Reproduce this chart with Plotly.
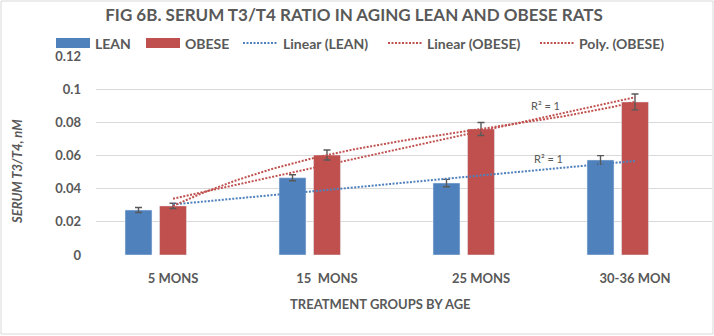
import numpy as np
import plotly.graph_objects as go

# ---- data ----
categories = ["5 MONS", "15  MONS", "25 MONS", "30-36 MON"]
lean = [0.0271, 0.0466, 0.0434, 0.0573]
lean_err = [0.0015, 0.0018, 0.0022, 0.0026]
obese = [0.0296, 0.0603, 0.0760, 0.0923]
obese_err = [0.0016, 0.0030, 0.0039, 0.0048]
y_ticks = [0, 0.02, 0.04, 0.06, 0.08, 0.1, 0.12]
y_tick_labels = ["0", "0.02", "0.04", "0.06", "0.08", "0.1", "0.12"]

W, H = 714, 336
L, R, T, B = 96, 712, 56, 255  # plot area in pixels

def px(x):
    return (x - L) / (R - L)

def py(y):
    return (B - y) / (B - T)

TXT = "#595959"
BLUE = "#4F81BD"
RED = "#C0504D"
FONT = "Lato"
DOT = "2px,1.5px"

xi = np.arange(len(categories))
bw = 0.175

fig = go.Figure()
fig.add_trace(go.Bar(
    x=xi, y=lean, name="LEAN", marker_color=BLUE, width=bw, offset=-0.224 - bw / 2,
    error_y=dict(type="data", array=lean_err, color=TXT, thickness=1.4, width=3.5),
    showlegend=False))
fig.add_trace(go.Bar(
    x=xi, y=obese, name="OBESE", marker_color=RED, width=bw, offset=-bw / 2,
    error_y=dict(type="data", array=obese_err, color=TXT, thickness=1.4, width=3.5),
    showlegend=False))

# trendlines fitted from the data
lin_lean = np.polyfit(xi, lean, 1)
lin_obese = np.polyfit(xi, obese, 1)
poly_obese = np.polyfit(xi, obese, 3)
xl = np.array([xi[0], xi[-1]])
xp = np.linspace(xi[0], xi[-1], 120)
fig.add_trace(go.Scatter(x=xl, y=np.polyval(lin_lean, xl), mode="lines", name="Linear (LEAN)",
                         line=dict(color=BLUE, width=2, dash=DOT), showlegend=False))
fig.add_trace(go.Scatter(x=xl, y=np.polyval(lin_obese, xl), mode="lines", name="Linear (OBESE)",
                         line=dict(color=RED, width=2, dash=DOT), showlegend=False))
fig.add_trace(go.Scatter(x=xp, y=np.polyval(poly_obese, xp), mode="lines", name="Poly. (OBESE)",
                         line=dict(color=RED, width=2, dash=DOT), showlegend=False))

shapes = []
annotations = []

# outer chart border
shapes.append(dict(type="rect", xref="paper", yref="paper",
                   x0=px(1), x1=px(713), y0=py(1), y1=py(334),
                   line=dict(color="#D9D9D9", width=1), fillcolor="rgba(0,0,0,0)", layer="below"))

# manual legend
leg_y = 43
def swatch(x0, x1, color):
    shapes.append(dict(type="rect", xref="paper", yref="paper", x0=px(x0), x1=px(x1),
                       y0=py(leg_y + 5), y1=py(leg_y - 5), fillcolor=color, line=dict(width=0)))
def dotline(x0, x1, color):
    shapes.append(dict(type="line", xref="paper", yref="paper", x0=px(x0), x1=px(x1),
                       y0=py(leg_y), y1=py(leg_y), line=dict(color=color, width=2, dash=DOT)))
def legtext(x, text):
    annotations.append(dict(xref="paper", yref="paper", x=px(x), y=py(leg_y), text=text,
                            showarrow=False, xanchor="left", yanchor="middle",
                            font=dict(family=FONT, size=14, color=TXT, weight="bold")))

swatch(56, 90, BLUE); legtext(93, "LEAN")
swatch(146, 180, RED); legtext(183, "OBESE")
dotline(243, 277, BLUE); legtext(281, "Linear (LEAN)")
dotline(388, 422, RED); legtext(425, "Linear (OBESE)")
dotline(540, 574, RED); legtext(577, "Poly. (OBESE)")

# R² labels
annotations.append(dict(x=2.417, y=0.0899, xref="x", yref="y", text="R² = 1", showarrow=False,
                        font=dict(family=FONT, size=11, color=TXT)))
annotations.append(dict(x=2.437, y=0.0579, xref="x", yref="y", text="R² = 1", showarrow=False,
                        font=dict(family=FONT, size=11, color=TXT)))

# axis titles
annotations.append(dict(xref="paper", yref="paper", x=px(380), y=py(304),
                        xanchor="center", yanchor="middle",
                        text="TREATMENT GROUPS BY AGE", showarrow=False,
                        font=dict(family=FONT, size=13, color=TXT, weight="bold")))
annotations.append(dict(xref="paper", yref="paper", x=px(17), y=py(172),
                        xanchor="center", yanchor="middle",
                        text="<i>SERUM T3/T4, nM</i>", showarrow=False, textangle=-90,
                        font=dict(family=FONT, size=13, color=TXT, weight="bold")))

fig.update_layout(
    width=W, height=H,
    margin=dict(l=L, r=W - R, t=T, b=H - B),
    paper_bgcolor="white", plot_bgcolor="white",
    barmode="overlay",
    showlegend=False,
    title=dict(text="<b>FIG 6B. SERUM T3/T4 RATIO IN AGING LEAN AND OBESE RATS</b>",
               xref="container", yref="container",
               x=354 / W, xanchor="center", y=1 - 15 / H, yanchor="middle",
               font=dict(family=FONT, size=17, color=TXT)),
    xaxis=dict(range=[-0.5, 3.5], tickvals=list(xi), ticktext=categories,
               showgrid=False, zeroline=False, showline=False, ticks="",
               tickfont=dict(family=FONT, size=13, color=TXT, weight="bold"),
               ticklabelstandoff=14),
    yaxis=dict(range=[0, 0.12], tickvals=y_ticks, ticktext=y_tick_labels,
               showgrid=True, gridcolor="#D9D9D9", gridwidth=1, zeroline=False,
               showline=False, ticks="",
               tickfont=dict(family=FONT, size=13, color=TXT, weight="bold"),
               ticklabelstandoff=14),
    shapes=shapes, annotations=annotations,
)

fig.write_html("out.html")
